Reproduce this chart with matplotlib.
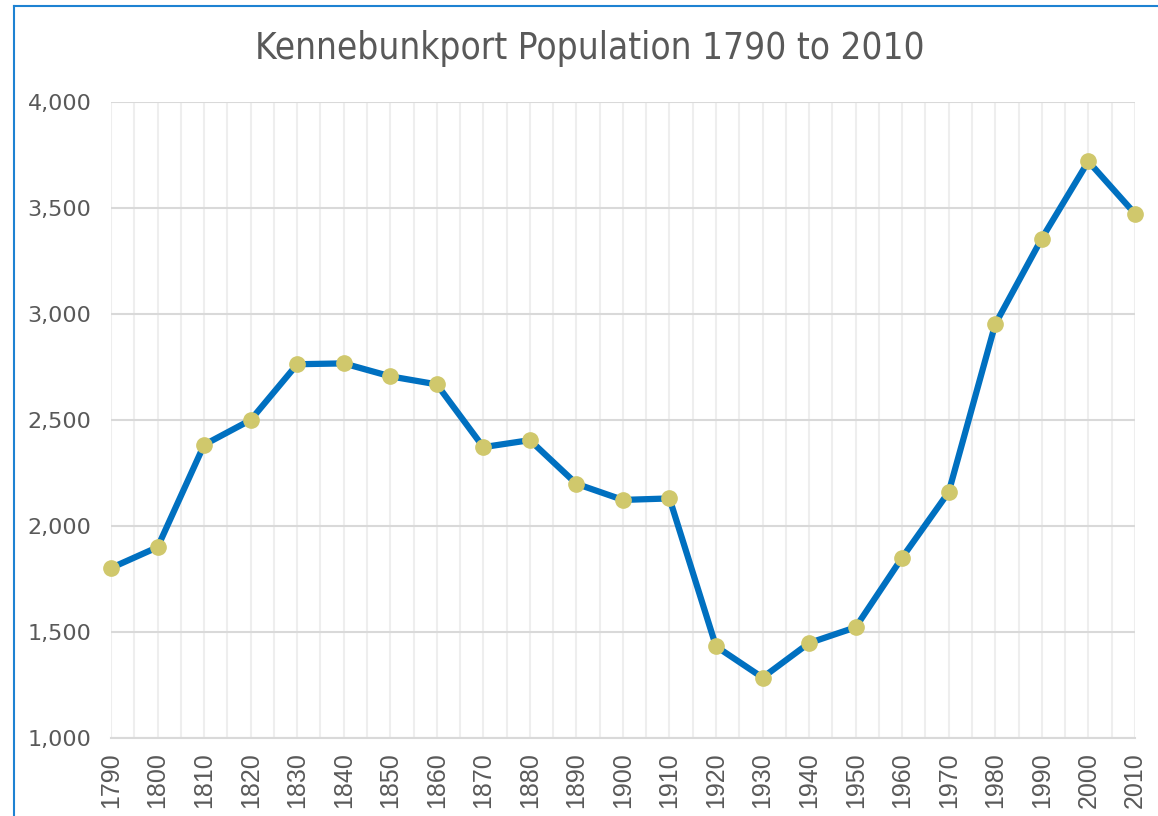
import matplotlib.pyplot as plt
from matplotlib.ticker import MultipleLocator
from matplotlib.lines import Line2D

years = list(range(1790, 2011, 10))
population = [1802, 1900, 2383, 2500, 2763, 2767, 2706, 2668, 2372, 2405,
              2199, 2123, 2130, 1432, 1285, 1448, 1522, 1851, 2160, 2952,
              3356, 3720, 3474]

y_ticks = [1000, 1500, 2000, 2500, 3000, 3500, 4000]
title = "Kennebunkport Population 1790 to 2010"

fig = plt.figure(figsize=(11.58, 8.16), dpi=100)
ax = fig.add_axes([0.0959, 0.0956, 0.8841, 0.7794])

ax.plot(years, population, color="#0070C0", linewidth=4.5, zorder=3,
        marker="o", markersize=11, markerfacecolor="#D0C86C",
        markeredgecolor="#D0C86C", clip_on=False)

ax.set_xlim(1790, 2010)
ax.set_ylim(1000, 4000)
ax.set_xticks(years, [str(y) for y in years], rotation=90,
              fontfamily="Liberation Sans", fontsize=18, color="#595959")
ax.xaxis.set_minor_locator(MultipleLocator(5))
ax.set_yticks(y_ticks, [f"{v:,}" for v in y_ticks],
              fontfamily="DejaVu Sans", fontsize=16, color="#595959")

ax.grid(axis="y", which="major", color="#D9D9D9", linewidth=1.5)
ax.grid(axis="x", which="both", color="#EEEEEE", linewidth=1.5)
ax.set_axisbelow(True)

for s in ["top", "right", "left"]:
    ax.spines[s].set_visible(False)
ax.spines["bottom"].set_color("#D9D9D9")
ax.spines["bottom"].set_linewidth(1.5)

ax.tick_params(axis="both", which="both", length=0)
ax.tick_params(axis="y", pad=14)
ax.tick_params(axis="x", pad=10)

fig.text(0.509, 0.94, title, ha="center", va="center", fontsize=26.5,
         color="#595959", family="DejaVu Sans", fontstretch="condensed")

# blue chart frame (left and top)
fig.add_artist(Line2D([0.0117, 0.0117], [0.0, 0.993], color="#1E82D2",
                      linewidth=1.5, transform=fig.transFigure))
fig.add_artist(Line2D([0.0117, 1.0], [0.993, 0.993], color="#1E82D2",
                      linewidth=1.5, transform=fig.transFigure))

fig.savefig("out.png", dpi=100)
